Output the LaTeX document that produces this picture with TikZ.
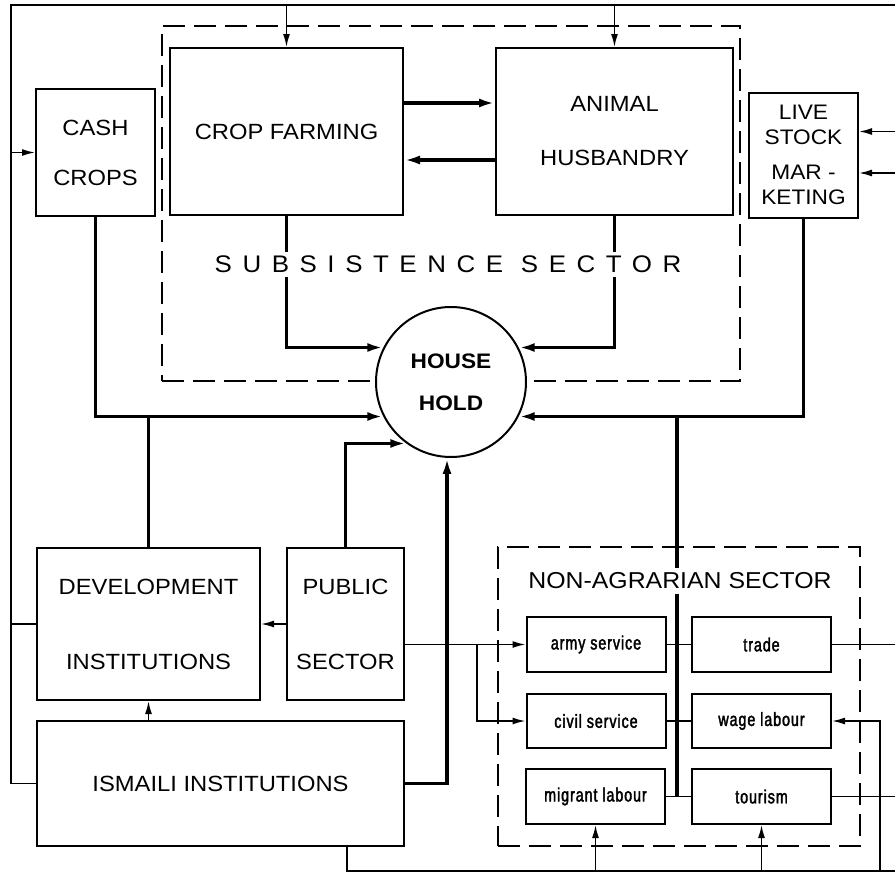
\documentclass[tikz,border=0pt]{standalone}
\usepackage{fontspec}
\setmainfont[FakeStretch=1.08]{Liberation Sans}
\newfontfamily\itemfont[FakeStretch=0.75,FakeBold=2,LetterSpace=5]{Liberation Sans}
\usetikzlibrary{arrows.meta}

\begin{document}
\begin{tikzpicture}[
  x=1pt,y=-1pt,
  >={Latex[length=13pt,width=7pt]},
  every node/.style={align=center,inner sep=0pt},
  box/.style={rectangle,draw,line width=2pt,font=\fontsize{22}{26}\selectfont},
  item/.style={rectangle,draw,line width=2pt,minimum width=139pt,minimum height=55pt,font=\itemfont\fontsize{19}{22}\selectfont},
  sector/.style={rectangle,draw,line width=2pt,dash pattern=on 22pt off 9pt},
  conn/.style={line width=1.6pt},
  main/.style={line width=3.2pt,>={Latex[length=16pt,width=9pt]}}
]
\useasboundingbox (0,0) rectangle (895,873);

\node[sector,minimum width=578pt,minimum height=355pt] (subs) at (451,203.5) {};
\node[sector,minimum width=362pt,minimum height=299pt] (nonag) at (679,696.5) {};

\node[box,minimum width=119pt,minimum height=127pt] (cash) at (95.5,152.5) {CASH\\[24pt]CROPS};
\node[box,minimum width=233pt,minimum height=167pt] (crop) at (286.5,131.5) {CROP FARMING};
\node[box,minimum width=237pt,minimum height=167pt] (animal) at (614.5,131.5) {ANIMAL\\[28pt]HUSBANDRY};
\node[box,minimum width=109pt,minimum height=125pt,font=\fontsize{21}{25}\selectfont] (live) at (803.5,155) {LIVE\\STOCK\\[10pt]MAR -\\KETING};
\node[circle,draw,fill=white,line width=2pt,minimum size=150pt,font=\bfseries\fontsize{21}{25}\selectfont] (house) at (451,382) {HOUSE\\[17pt]HOLD};
\node[box,minimum width=223pt,minimum height=152pt] (dev) at (148.5,624) {DEVELOPMENT\\[49pt]INSTITUTIONS};
\node[box,minimum width=117pt,minimum height=152pt] (pub) at (345.5,624) {PUBLIC\\[49pt]SECTOR};
\node[box,minimum width=367pt,minimum height=125pt] (ism) at (220.5,783.5) {ISMAILI INSTITUTIONS};

\node[item] (army) at (596,644.5) {army service};
\node[item] (trade) at (761.5,644.5) {trade};
\node[item,minimum height=54pt] (civil) at (596,721) {civil service};
\node[item,minimum height=54pt] (wage) at (761.5,721) {wage labour};
\node[item] (migr) at (595.5,796.5) {migrant labour};
\node[item] (tour) at (761.5,796.5) {tourism};

\coordinate (tl) at (11,5);
\coordinate (tr) at (895,5);
\coordinate (lu) at ([yshift=23.5pt]live.east);
\coordinate (ld) at ([yshift=-18pt]live.east);
\coordinate (spine) at (677,796.5);
\coordinate (split) at (477,644.5);
\coordinate (bot) at (347,871);
\coordinate (br) at (895,871);
\coordinate (wr) at (880,871);

\draw[conn] (tr) -- (tl) |- (ism.west);
\draw[conn,->] (tl |- cash.west) -- (cash.west);
\draw[conn] (tl |- dev.west) -- (dev.west);
\draw[conn,->] (tl -| crop.north) -- (crop.north);
\draw[conn,->] (tl -| animal.north) -- (animal.north);
\draw[conn,->] (lu -| tr) -- (lu);
\draw[conn,->] (ld -| tr) -- (ld);

\draw[main,->] ([yshift=28.5pt]crop.east) -- ([yshift=28.5pt]animal.west);
\draw[main,->] ([yshift=-28.5pt]animal.west) -- ([yshift=-28.5pt]crop.east);
\draw[main,->] (crop.south) |- (house.153);
\draw[main,->] (animal.south) |- (house.27);
\draw[main,->] (cash.south) |- (house.207);
\draw[main,->] (live.south) |- (house.333);
\draw[main] (dev.north) -- (dev.north |- house.207);
\draw[main] (spine) -- (spine |- house.333);
\draw[main,->] (pub.north) |- (house.234);
\draw[main,->] (ism.east) -| (house.267);

\draw[conn,->] (pub.west) -- (dev.east);
\draw[conn,->] (dev.south |- ism.north) -- (dev.south);
\draw[conn,->] (pub.east |- army.west) -- (army.west);
\draw[conn,->] (split) |- (civil.west);
\draw[conn] (army.east) -- (trade.west);
\draw[conn] (civil.east) -- (wage.west);
\draw[conn] (migr.east) -- (tour.west);
\draw[conn] (trade.east) -- (trade.east -| tr);
\draw[conn] (tour.east) -- (tour.east -| tr);
\draw[conn] (bot |- ism.south) -- (bot) -- (br);
\draw[conn,->] (migr.south |- bot) -- (migr.south);
\draw[conn,->] (tour.south |- bot) -- (tour.south);
\draw[conn,->] (wr) |- (wage.east);

\node[fill=white,inner sep=4pt,font=\addfontfeature{LetterSpace=44}\fontsize{24}{28}\selectfont] (subslabel) at (448,264) {SUBSISTENCE SECTOR};
\node[fill=white,inner sep=5pt,font=\fontsize{23}{27}\selectfont] (nonaglabel) at (680,581) {NON-AGRARIAN SECTOR};
\end{tikzpicture}
\end{document}
